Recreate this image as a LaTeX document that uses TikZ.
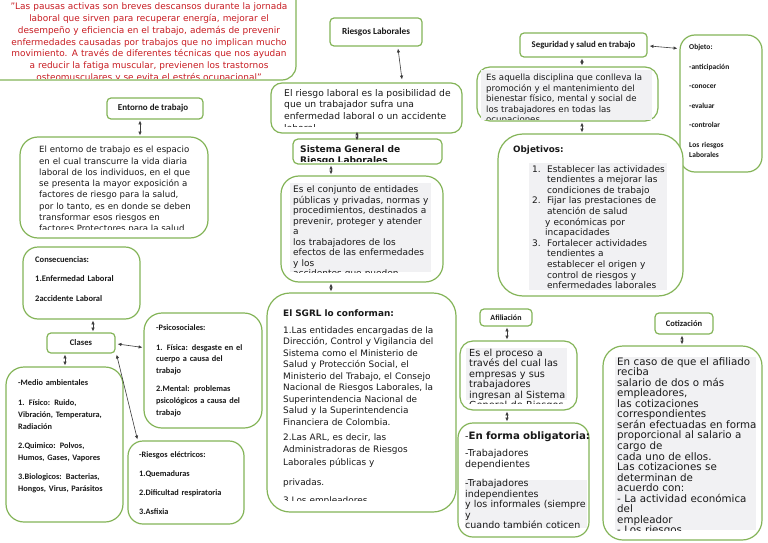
\documentclass[tikz,border=0pt]{standalone}
\usepackage{fontspec}
\setmainfont{DejaVu Sans}
\newfontfamily\cb{Carlito}
\usetikzlibrary{arrows.meta,fit,calc}
\definecolor{bgreen}{RGB}{132,180,88}
\definecolor{qred}{RGB}{200,28,34}
\definecolor{txt}{RGB}{25,25,25}
\definecolor{hl}{RGB}{241,241,243}
\definecolor{ln}{RGB}{60,60,60}
\pgfdeclarelayer{bg}
\pgfsetlayers{bg,main}
\tikzset{
 box/.style={draw=bgreen, line width=1.2pt, fill=white, inner sep=0pt, rounded corners=#1},
 box/.default=15pt,
 lbl/.style={box=4pt},
 lbltxt/.style={anchor=center, inner sep=0pt, text=txt, font=\cb\bfseries\fontsize{#1}{10}\selectfont},
 lbltxt/.default=9,
 dar/.style={{Latex[length=3.8pt,width=3.4pt]}-{Latex[length=3.8pt,width=3.4pt]}, draw=ln, line width=0.6pt},
 wire/.style={draw=ln!85, line width=0.6pt},
 txtn/.style={anchor=base west, inner sep=0pt, align=left, text=txt},
 ctxt/.style={txtn, font=\cb\bfseries\fontsize{8.3}{11.8}\selectfont, text width=115pt},
}
\begin{document}
\begin{tikzpicture}[x=1pt,y=-1pt]
\useasboundingbox (0,0) rectangle (768,543);
\clip (0,0) rectangle (768,543);
\fill[white] (0,0) rectangle (768,543);

% ---------- boxes ----------
\node[box=14pt, fit={(-14,-14) (296,80)}] (quote) {};
\node[lbl, fit={(330,18) (422,46)}] (rl) {};
\node[lbl, fit={(520,33) (647,57)}] (seg) {};
\node[box=15pt, fit={(680,35) (762,172)}] (obj) {};
\node[box=11pt, fit={(271,83) (462,133)}] (riesgo) {};
\node[box=5pt, fit={(293,139) (442,164)}] (sis) {};
\node[box=18pt, fit={(281,176) (443,282)}] (conj) {};
\node[box=23pt, fit={(267,293) (456,512)}] (sgrl) {};
\node[lbl, fit={(107,98) (203,119)}] (ent) {};
\node[box=18pt, fit={(20,137) (208,238)}] (entt) {};
\node[box=15pt, fit={(23,247) (140,319)}] (cons) {};
\node[lbl, fit={(47,333) (115,353)}] (cla) {};
\node[box=18pt, fit={(144,313) (262,428)}] (psi) {};
\node[box=18pt, fit={(6,367) (123,522)}] (med) {};
\node[box=15pt, fit={(128,441) (244,524)}] (ele) {};
\node[box=13pt, fit={(477,67) (658,121)}] (aq) {};
\node[box=25pt, fit={(498,134) (683,296)}] (objv) {};
\node[lbl, fit={(480,309) (532,326)}] (afi) {};
\node[box=13pt, fit={(460,341) (577,410)}] (proc) {};
\node[box=15pt, fit={(458,423) (589,537)}] (oblig) {};
\node[lbl, fit={(655,313) (713,334)}] (cot) {};
\node[box=20pt, fit={(603,346) (762,540)}] (caso) {};

% ---------- label texts ----------
\node[lbltxt=9.3] (rlT) at (rl.center) {Riesgos Laborales};
\node[lbltxt=8.8] (segT) at (seg.center) {Seguridad y salud en trabajo};
\node[lbltxt=9] (entT) at ($(ent.center)+(-2,0)$) {Entorno de trabajo};
\node[lbltxt=8.6] (claT) at (cla.center) {Clases};
\node[lbltxt=8] (afiT) at (afi.center) {Afiliación};
\node[lbltxt=8.5] (cotT) at (cot.center) {Cotización};

% ---------- plain connectors ----------
\begin{pgfonlayer}{bg}
\coordinate (j2) at (460,50.5);
\coordinate (j1) at (264,89);
\coordinate (k1) at (218,276);
\coordinate (j3) at (484,281);
\coordinate (k2) at (555,301);
\coordinate (k3) at (598,329);
\draw[wire] ($(seg.west)+(0,-6)$) -- (j2) -- (j1) -- ($(ent.north)+(22,0)$);
\draw[wire] (j1) -- (k1) -- ($(cons.east)+(0,-1)$);
\draw[wire] (j2) -- (j3) -- ($(afi.north)+(-19,0)$);
\draw[wire] (j3) -- (k2) -- (k3) -- ($(cot.west)+(0,-0.5)$);
\end{pgfonlayer}

% ---------- arrows ----------
\draw[dar] ($(rl.south)+(22,2)$) -- ($(riesgo.north)+(35.5,-3)$);
\draw[dar] ($(seg.south)+(-1.5,1)$) -- ($(aq.north)+(14.5,-1)$);
\draw[dar] ($(aq.south)+(14.5,1)$) -- ($(objv.north)+(-8.5,-1)$);
\draw[dar] ($(seg.east)+(2,1)$) -- ($(obj.north west)+(-2,14)$);
\draw[dar] ($(riesgo.south)+(-9.5,-2)$) -- ($(sis.north)+(-10.5,2)$);
\draw[dar] ($(sis.south)+(-36.5,1)$) -- ($(conj.north)+(-31,-1)$);
\draw[dar] ($(conj.south)+(-31,1)$) -- ($(sgrl.north)+(-30.5,-1)$);
\draw[dar] ($(ent.south)+(-15,1)$) -- ($(entt.north)+(26,-1)$);
\draw[dar] ($(cons.south)+(11.5,1)$) -- ($(cla.north)+(12,-1)$);
\draw[dar] ($(cla.south)+(-16,1)$) -- ($(med.north)+(0.5,-1)$);
\draw[dar] ($(cla.east)+(2,1)$) -- ($(psi.north west)+(-1,35)$);
\draw[dar] ($(cla.south east)+(1,1)$) -- ($(ele.north west)+(10,-1)$);
\draw[dar] ($(afi.south)+(1,1)$) -- ($(proc.north)+(-11.5,-1)$);
\draw[dar] ($(proc.south)+(-11.5,1)$) -- ($(oblig.north)+(-16.5,-1)$);
\draw[dar] ($(cot.south)+(-2,1)$) -- ($(caso.north)+(-0.5,-1)$);

% ---------- texts ----------
\begin{scope}
\clip (-10,-10) rectangle (294,78.5);
\node[anchor=base, inner sep=0pt, align=center, text width=300pt, text=qred,
      font=\fontsize{8.95}{11.7}\selectfont] (quoteT) at (149,10)
{"Las pausas activas son breves descansos durante la jornada\\
laboral que sirven para recuperar energía, mejorar el\\
desempeño y eficiencia en el trabajo, además de prevenir\\
enfermedades causadas por trabajos que no implican mucho\\
movimiento. A través de diferentes técnicas que nos ayudan\\
a reducir la fatiga muscular, previenen los trastornos\\
osteomusculares y se evita el estrés ocupacional"};
\end{scope}

\node[txtn, text width=70pt, font=\cb\bfseries\fontsize{7.5}{11}\selectfont] (objT) at (689,50)
{Objeto:\\[8.4pt]-anticipación\\[8.4pt]-conocer\\[8.4pt]-evaluar\\[8.4pt]-controlar\\[8.4pt]Los riesgos\\Laborales};

\begin{scope}
\clip (272,84) rectangle (461,126);
\node[txtn, text width=185pt, font=\fontsize{9.2}{11.7}\selectfont] (riesgoT) at (284,96)
{El riesgo laboral es la posibilidad de\\que un trabajador sufra una\\enfermedad laboral o un accidente\\laboral};
\end{scope}

\begin{scope}
\clip (294,140) rectangle (441,161);
\node[txtn, text width=145pt, font=\bfseries\fontsize{9.1}{11}\selectfont] (sisT) at (300,152.5)
{Sistema General de\\Riesgo Laborales};
\end{scope}

\fill[hl] (290,183) rectangle (431,272);
\begin{scope}
\clip (282,177) rectangle (442,272);
\node[txtn, text width=150pt, font=\fontsize{9}{10.5}\selectfont] (conjT) at (293,192.7)
{Es el conjunto de entidades\\públicas y privadas, normas y\\procedimientos, destinados a\\prevenir, proteger y atender\\a\\los trabajadores de los\\efectos de las enfermedades\\y los\\accidentes que pueden};
\end{scope}

\begin{scope}
\clip (268,294) rectangle (455,500);
\node[txtn, text width=180pt, font=\fontsize{8.9}{11.5}\selectfont] (sgrlT) at (283,316.5)
{{\bfseries El SGRL lo conforman:}\\[5.3pt]
1.Las entidades encargadas de la\\
Dirección, Control y Vigilancia del\\
Sistema como el Ministerio de\\
Salud y Protección Social, el\\
Ministerio del Trabajo, el Consejo\\
Nacional de Riesgos Laborales, la\\
Superintendencia Nacional de\\
Salud y la Superintendencia\\
Financiera de Colombia.\\[3.2pt]
2.Las ARL, es decir, las\\[1pt]
Administradoras de Riesgos\\[1pt]
Laborales públicas y\\[9.1pt]
privadas.\\[5.9pt]
3.Los empleadores};
\end{scope}

\begin{scope}
\clip (21,138) rectangle (207,229);
\node[txtn, text width=180pt, font=\fontsize{8.6}{11.3}\selectfont] (enttT) at (39,152.7)
{El entorno de trabajo es el espacio\\en el cual transcurre la vida diaria\\laboral de los individuos, en el que\\se presenta la mayor exposición a\\factores de riesgo para la salud,\\por lo tanto, es en donde se deben\\transformar esos riesgos en\\factores Protectores para la salud};
\end{scope}

\node[txtn, font=\cb\bfseries\fontsize{8.5}{19.8}\selectfont, text width=100pt] (consT) at (35,262)
{Consecuencias:\\1.Enfermedad Laboral\\2accidente Laboral};

\node[ctxt] (psiT) at (156,330)
{-Psicosociales:\\[8.2pt]1. Física: desgaste en el\\cuerpo a causa del\\trabajo\\[6.2pt]2.Mental: problemas\\psicológicos a causa del\\trabajo};

\node[ctxt] (medT) at (18,385.7)
{-Medio ambientales\\[7.9pt]1. Físico: Ruido,\\Vibración, Temperatura,\\Radiación\\[7.5pt]2.Quimico: Polvos,\\Humos, Gases, Vapores\\[7.5pt]3.Biologicos: Bacterias,\\Hongos, Virus, Parásitos};

\node[ctxt, font=\cb\bfseries\fontsize{8.3}{19.1}\selectfont] (eleT) at (139,457)
{-Riesgos eléctricos:\\1.Quemaduras\\2.Dificultad respiratoria\\3.Asfixia};

\fill[hl] (481,70) rectangle (652,119.5);
\begin{scope}
\clip (478,68) rectangle (657,119.5);
\node[txtn, text width=175pt, font=\fontsize{8.6}{10.4}\selectfont] (aqT) at (486,81)
{Es aquella disciplina que conlleva la\\promoción y el mantenimiento del\\bienestar físico, mental y social de\\los trabajadores en todas las\\ocupaciones};
\end{scope}

\node[txtn, font=\bfseries\fontsize{8.8}{10}\selectfont] (objvH) at (513,152) {Objetivos:};
\fill[hl] (529,163) rectangle (667,290);
\begin{scope}
\clip (499,135) rectangle (682,290);
\node[txtn, text width=150pt, font=\fontsize{9}{10.6}\selectfont] (objvT) at (532,172)
{\makebox[15pt][l]{1.}Establecer las actividades\\
\hspace*{15pt}tendientes a mejorar las\\
\hspace*{15pt}condiciones de trabajo\\
\makebox[15pt][l]{2.}Fijar las prestaciones de\\
\hspace*{15pt}atención de salud\\
\hspace*{13pt}y económicas por\\
\hspace*{13pt}incapacidades\\
\makebox[15pt][l]{3.}Fortalecer actividades\\
\hspace*{15pt}tendientes a\\
\hspace*{15pt}establecer el origen y\\
\hspace*{15pt}control de riesgos y\\
\hspace*{15pt}enfermedades laborales};
\end{scope}

\fill[hl] (466,348) rectangle (567,400);
\begin{scope}
\clip (461,342) rectangle (576,403.5);
\node[txtn, text width=110pt, font=\fontsize{9.7}{10.4}\selectfont] (procT) at (469,356.5)
{Es el proceso a\\través del cual las\\empresas y sus\\trabajadores\\ingresan al Sistema\\General de Riesgos};
\end{scope}

\fill[hl] (465,480) rectangle (587,528);
\begin{scope}
\clip (459,424) rectangle (588,528);
\node[txtn, text width=130pt, font=\fontsize{9.5}{10.5}\selectfont] (obligT) at (465,439.5)
{-{\bfseries\fontsize{10.2}{10.5}\selectfont En forma obligatoria:}\\[6.5pt]
-Trabajadores\\dependientes\\[9pt]
-Trabajadores\\independientes\\y los informales (siempre\\y\\cuando también coticen};
\end{scope}

\fill[hl] (615,357) rectangle (756,530);
\begin{scope}
\clip (604,347) rectangle (761,530);
\node[txtn, text width=150pt, font=\fontsize{10.3}{10.56}\selectfont] (casoT) at (617,365)
{En caso de que el afiliado\\reciba\\salario de dos o más\\empleadores,\\las cotizaciones\\correspondientes\\serán efectuadas en forma\\proporcional al salario a\\cargo de\\cada uno de ellos.\\Las cotizaciones se\\determinan de\\acuerdo con:\\- La actividad económica\\del\\empleador\\- Los riesgos};
\end{scope}
\end{tikzpicture}
\end{document}
